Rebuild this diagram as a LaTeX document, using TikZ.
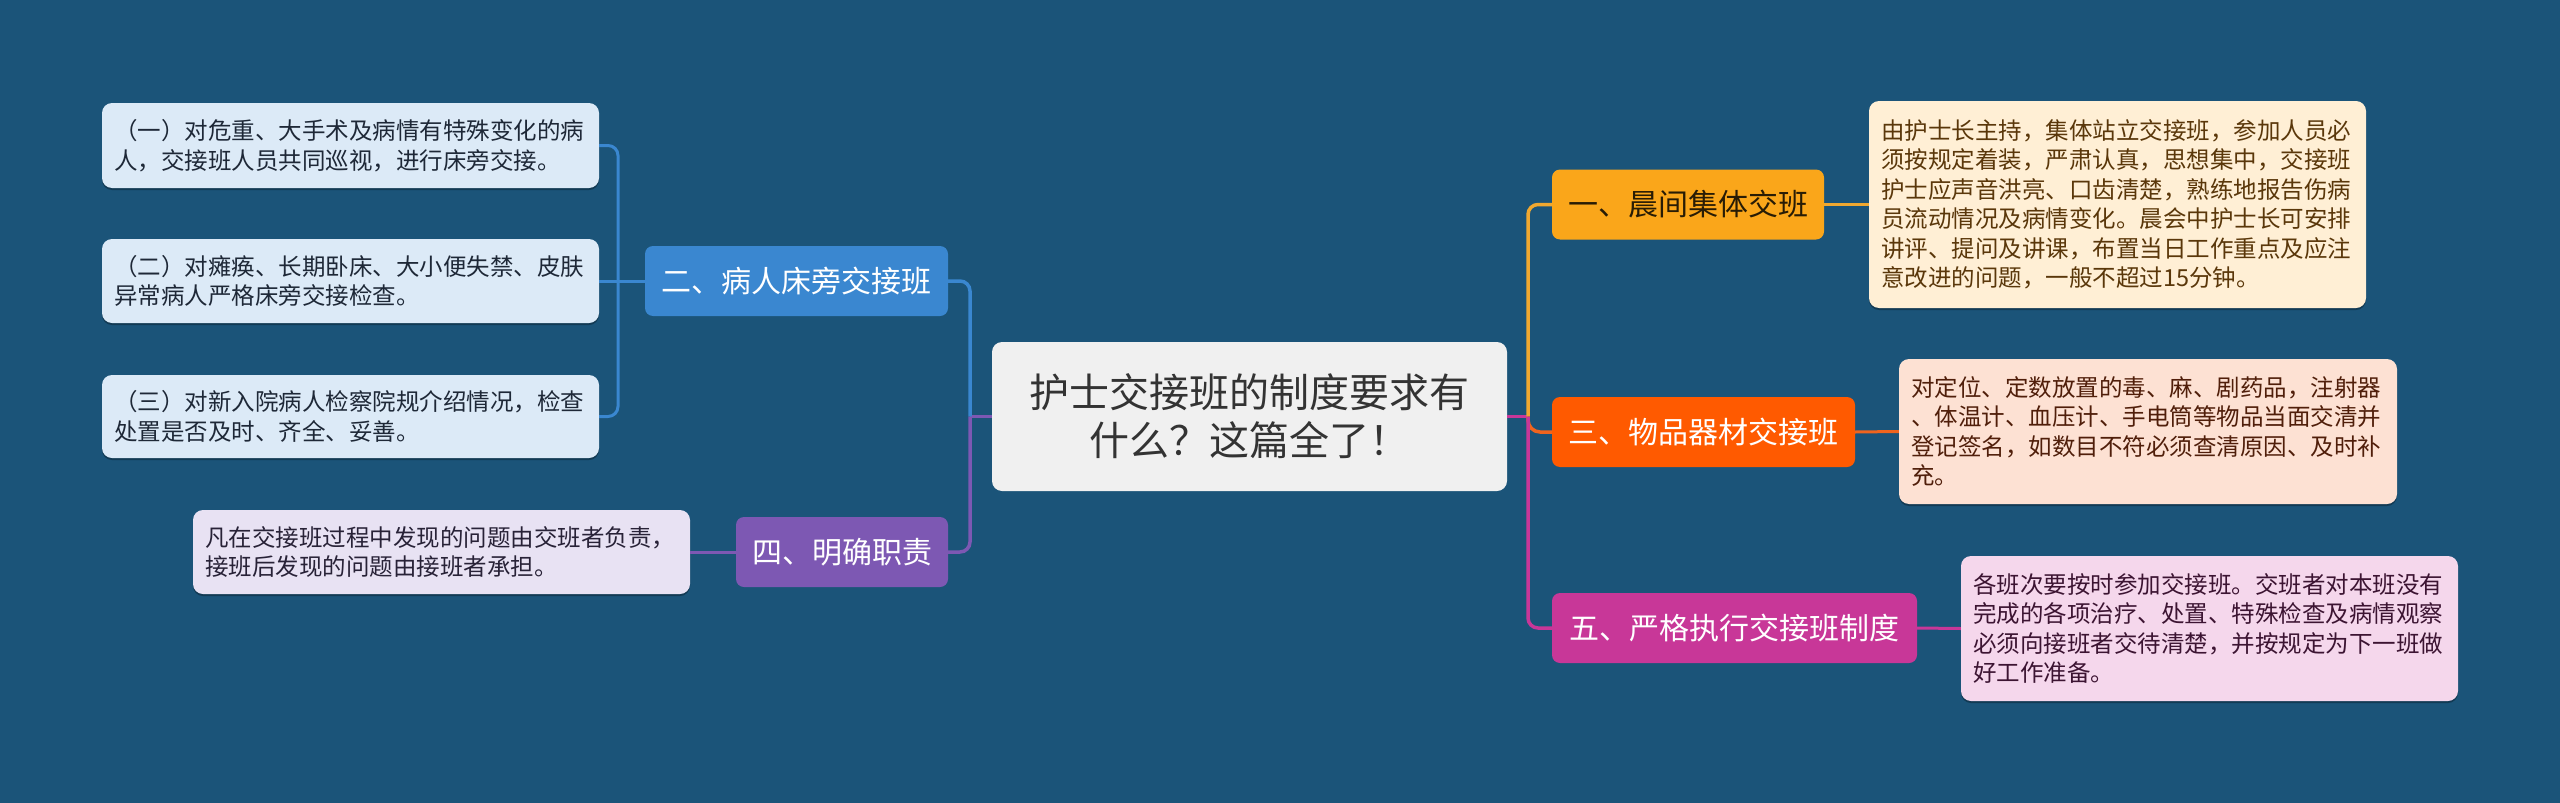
\documentclass[tikz,border=0pt]{standalone}
\usepackage{fontspec}
\newfontfamily\cjk{Noto Sans CJK SC}
\usetikzlibrary{shadows}
\definecolor{bg}{RGB}{27,84,121}
\definecolor{cfill}{RGB}{240,240,240}
\definecolor{ctext}{RGB}{51,51,51}
\definecolor{cOne}{RGB}{250,166,26}
\definecolor{cThree}{RGB}{255,90,0}
\definecolor{cFive}{RGB}{200,55,152}
\definecolor{cTwo}{RGB}{58,135,208}
\definecolor{cFour}{RGB}{125,88,179}
\definecolor{lOne}{RGB}{255,239,213}
\definecolor{lOneT}{RGB}{90,55,10}
\definecolor{lThree}{RGB}{253,225,211}
\definecolor{lThreeT}{RGB}{80,30,10}
\definecolor{lFive}{RGB}{245,215,236}
\definecolor{lFiveT}{RGB}{60,20,50}
\definecolor{lTwo}{RGB}{220,234,247}
\definecolor{lTwoT}{RGB}{30,40,55}
\definecolor{lFour}{RGB}{232,226,243}
\definecolor{lFourT}{RGB}{40,34,55}
\definecolor{lnOne}{RGB}{240,168,48}
\definecolor{lnThree}{RGB}{240,100,30}
\tikzset{
  central/.style={fill=cfill, rounded corners=10pt, inner sep=0pt, align=center,
    text=ctext, font=\cjk\fontsize{40}{48}\selectfont},
  topic/.style={rounded corners=8pt, inner sep=0pt, minimum height=70pt,
    font=\cjk\fontsize{30}{36}\selectfont, text=white},
  leaf/.style={rounded corners=10pt, inner xsep=12pt, inner ysep=0pt, align=left,
    font=\cjk\fontsize{23.5}{29.5}\selectfont,
    drop shadow={shadow xshift=0pt, shadow yshift=-2pt, opacity=0.3, fill=black}},
  conn/.style={line width=3.5pt},
  lconn/.style={line width=3pt},
}
\begin{document}
\begin{tikzpicture}[x=1pt,y=-1pt]
\fill[bg] (0,0) rectangle (2560,803);
\useasboundingbox (0,0) rectangle (2560,803);

% central
\node[central, minimum width=515pt, minimum height=149pt] (c) at (1249.5,416.5)
  {护士交接班的制度要求有\\什么？这篇全了！};

% topics
\node[topic, fill=cOne, text={rgb,255:red,40;green,28;blue,5}, minimum width=272pt] (t1) at (1688,204.5) {一、晨间集体交班};
\node[topic, fill=cThree, minimum width=303pt] (t3) at (1703.5,432) {三、物品器材交接班};
\node[topic, fill=cFive, minimum width=365pt] (t5) at (1734.5,628) {五、严格执行交接班制度};
\node[topic, fill=cTwo, minimum width=303pt] (t2) at (796.5,281) {二、病人床旁交接班};
\node[topic, fill=cFour, minimum width=212pt] (t4) at (842,552) {四、明确职责};

% leaves
\node[leaf, fill=lTwo, text=lTwoT, text width=473pt, minimum height=85pt] (l1) at (350.5,145.5)
  {（一）对危重、大手术及病情有特殊变化的病\\人，交接班人员共同巡视，进行床旁交接。};
\node[leaf, fill=lTwo, text=lTwoT, text width=473pt, minimum height=84pt] (l2) at (350.5,281)
  {（二）对瘫痪、长期卧床、大小便失禁、皮肤\\异常病人严格床旁交接检查。};
\node[leaf, fill=lTwo, text=lTwoT, text width=473pt, minimum height=83pt] (l3) at (350.5,416.5)
  {（三）对新入院病人检察院规介绍情况，检查\\处置是否及时、齐全、妥善。};
\node[leaf, fill=lFour, text=lFourT, text width=473pt, minimum height=84pt] (l4) at (441.5,552)
  {凡在交接班过程中发现的问题由交班者负责，\\接班后发现的问题由接班者承担。};
\node[leaf, fill=lOne, text=lOneT, text width=473pt, minimum height=207pt] (r1) at (2117.5,204.5)
  {由护士长主持，集体站立交接班，参加人员必\\须按规定着装，严肃认真，思想集中，交接班\\护士应声音洪亮、口齿清楚，熟练地报告伤病\\员流动情况及病情变化。晨会中护士长可安排\\讲评、提问及讲课，布置当日工作重点及应注\\意改进的问题，一般不超过15分钟。};
\node[leaf, fill=lThree, text=lThreeT, text width=474pt, minimum height=145pt] (r3) at (2148,431.5)
  {对定位、定数放置的毒、麻、剧药品，注射器\\、体温计、血压计、手电筒等物品当面交清并\\登记签名，如数目不符必须查清原因、及时补\\充。};
\node[leaf, fill=lFive, text=lFiveT, text width=473pt, minimum height=145pt] (r5) at (2209.5,628.5)
  {各班次要按时参加交接班。交班者对本班没有\\完成的各项治疗、处置、特殊检查及病情观察\\必须向接班者交待清楚，并按规定为下一班做\\好工作准备。};

% junctions
\coordinate (jR) at (1528,416.5);
\coordinate (jL) at (970,416.5);
\coordinate (jB) at (618,281);

% right connectors
\draw[conn, cFive] (c.east) -- (jR);
\draw[conn, lnOne, rounded corners=10pt] (jR) |- (t1.west);
\draw[conn, lnThree, rounded corners=12pt] (jR) |- (t3.west);
\draw[conn, cFive, rounded corners=10pt] (jR) |- (t5.west);
% left connectors
\draw[conn, cFour] (c.west) -- (jL);
\draw[conn, cTwo, rounded corners=10pt] (jL) |- (t2.east);
\draw[conn, cFour, rounded corners=10pt] (jL) |- (t4.east);

% topic to leaves
\draw[lconn, lnOne] (t1.east) -- (r1.west);
\draw[lconn, lnThree] (t3.east) -- (r3.west);
\draw[lconn, cFive] (t5.east) -- (r5.west);
\draw[lconn, cFour] (t4.west) -- (l4.east);
\draw[lconn, cTwo] (t2.west) -- (jB);
\draw[lconn, cTwo] (jB) -- (l2.east);
\draw[lconn, cTwo, rounded corners=10pt] (jB) |- (l1.east);
\draw[lconn, cTwo, rounded corners=10pt] (jB) |- (l3.east);
\end{tikzpicture}
\end{document}
